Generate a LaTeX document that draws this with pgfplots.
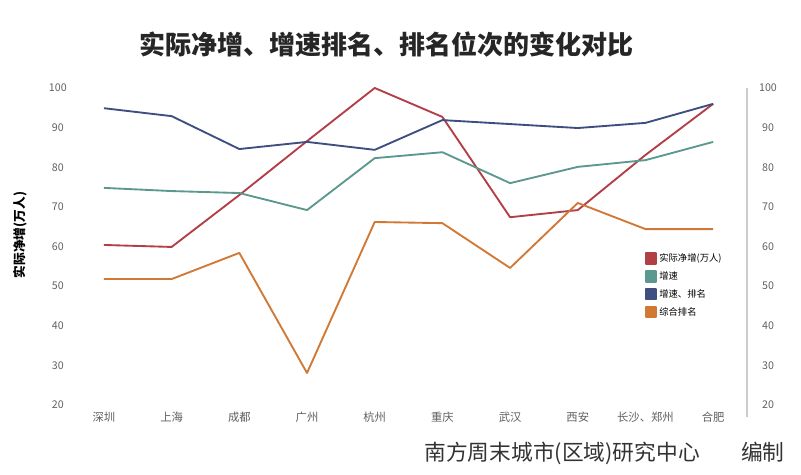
\documentclass[border=0pt]{standalone}
\usepackage{pgfplots}
\pgfplotsset{compat=1.18}
\usepackage{fontspec}
\setmainfont{Noto Sans CJK SC}
\definecolor{cred}{RGB}{178,62,70}
\definecolor{cteal}{RGB}{92,152,142}
\definecolor{cblue}{RGB}{62,78,128}
\definecolor{corange}{RGB}{208,120,52}
\definecolor{ctick}{RGB}{100,95,95}
\begin{document}
\begin{tikzpicture}
\useasboundingbox (0,0) rectangle (600.75pt,356.25pt);
\node[font=\bfseries\fontsize{19.5}{23}\selectfont, text=black!85] at (290pt,322.5pt) {实际净增、增速排名、排名位次的变化对比};
\node[rotate=90, font=\bfseries\fontsize{9.5}{11}\selectfont] at (15pt,180pt) {实际净增(万人)};
\node[anchor=east, font=\fontsize{16.3}{19}\selectfont, text=black!80] at (592pt,16.5pt) {南方周末城市(区域)研究中心\hspace{1.9em}编制};
\begin{axis}[at={(70.35pt,43.5pt)}, anchor=south west, scale only axis,
  width=489.9pt, height=246.75pt,
  xmin=-0.15, xmax=9.5, ymin=17, ymax=100,
  axis x line*=bottom, axis y line*=left, axis line style={draw=none},
  major tick length=0pt,
  xtick={0,...,9},
  xticklabels={深圳,上海,成都,广州,杭州,重庆,武汉,西安,长沙、郑州,合肥},
  xticklabel style={anchor=center, yshift=0pt, font=\fontsize{8.5}{10}\selectfont, text=ctick},
  ytick={20,30,...,100},
  yticklabel style={anchor=center, xshift=-27pt, font=\fontsize{8}{9}\selectfont, text=ctick},
  /pgf/number format/assume math mode=true,
  legend style={at={(0.84,0.514)}, anchor=north west, draw=none, fill=white,
    font=\fontsize{7}{8}\selectfont, row sep=2pt, inner sep=2pt},
  legend cell align=left,
  legend image code/.code={\fill (0pt,-4pt) rectangle (7pt,4pt);},
  every axis plot/.append style={line width=1.4pt, line join=round}
]
\addplot[color=cred] coordinates {(0,60.4) (1,59.9) (2,73.0) (3,86.6) (4,100) (5,92.7) (6,67.4) (7,69.2) (8,83.1) (9,96.0)};
\addlegendentry{实际净增(万人)}
\addplot[color=cteal] coordinates {(0,74.8) (1,74.0) (2,73.5) (3,69.2) (4,82.3) (5,83.8) (6,76.0) (7,80.1) (8,81.8) (9,86.4)};
\addlegendentry{增速}
\addplot[color=cblue] coordinates {(0,94.9) (1,92.9) (2,84.6) (3,86.4) (4,84.4) (5,91.9) (6,90.9) (7,89.9) (8,91.2) (9,96.0)};
\addlegendentry{增速、排名}
\addplot[color=corange] coordinates {(0,51.8) (1,51.8) (2,58.4) (3,28.1) (4,66.2) (5,65.9) (6,54.6) (7,71.0) (8,64.4) (9,64.4)};
\addlegendentry{综合排名}
\end{axis}
\begin{axis}[at={(70.35pt,43.5pt)}, anchor=south west, scale only axis,
  width=489.9pt, height=246.75pt,
  xmin=-0.15, xmax=9.5, ymin=17, ymax=100,
  axis x line=none, axis y line*=right,
  axis line style={draw=black!20, line width=1.2pt},
  major tick length=0pt,
  ytick={20,30,...,100},
  yticklabel style={anchor=center, xshift=15.75pt, font=\fontsize{8}{9}\selectfont, text=ctick},
  /pgf/number format/assume math mode=true
]
\addplot[draw=none] coordinates {(0,50)};
\end{axis}
\end{tikzpicture}
\end{document}
